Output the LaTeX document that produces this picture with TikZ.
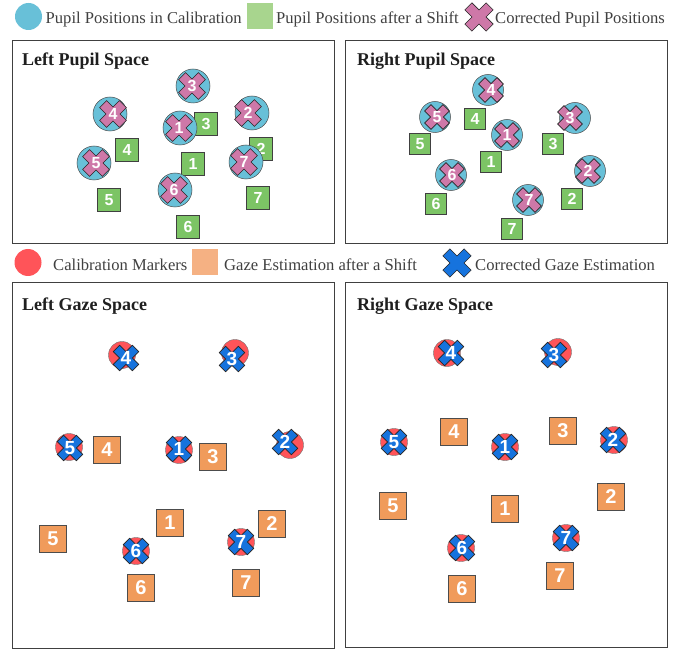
\documentclass[tikz,border=0pt]{standalone}
\usepackage{fontspec}
\setmainfont{Liberation Serif}
\newfontfamily\numfont{Liberation Sans}
\definecolor{pupilblue}{RGB}{104,192,216}
\definecolor{sqgreen}{RGB}{124,196,101}
\definecolor{leggreen}{RGB}{168,213,142}
\definecolor{xpink}{RGB}{206,120,168}
\definecolor{markred}{RGB}{255,84,89}
\definecolor{sqorange}{RGB}{240,155,91}
\definecolor{legorange}{RGB}{245,177,131}
\definecolor{xblue}{RGB}{22,115,221}
\definecolor{txtgray}{RGB}{64,64,64}
\newcommand{\xcross}[5]{% center, fill, halfwidth, halflength, name
  \filldraw[fill=#2, draw=black!85, line width=0.6pt, shift={#1}, rotate=45]
    (#3,#4) -- (#3,#3) -- (#4,#3) -- (#4,-#3) -- (#3,-#3) -- (#3,-#4) --
    (-#3,-#4) -- (-#3,-#3) -- (-#4,-#3) -- (-#4,#3) -- (-#3,#3) -- (-#3,#4) -- cycle;
  \coordinate (#5) at #1;}
% pupil point: name, x, y, dx, dy, number, circle size, cross halfwidth, cross halflength
\newcommand{\pupilpt}[9]{%
  \node[pcirc, minimum size=#7pt] (#1) at (#2,#3) {};
  \xcross{($(#1)+(#4,#5)$)}{xpink}{#8}{#9}{#1-x}
  \node[pnum] (#1-n) at (#1-x) {#6};}
% gaze point: name, x, y, dx, dy, number
\newcommand{\gazept}[6]{%
  \node[gcirc] (#1) at (#2,#3) {};
  \xcross{($(#1)+(#4,#5)$)}{xblue}{4.5}{13.5}{#1-x}
  \node[gnum] (#1-n) at (#1-x) {#6};}
\usetikzlibrary{calc}
\tikzset{
  panel/.style={draw=black!75, line width=0.8pt},
  ptitle/.style={anchor=base west, inner sep=0, text=black!88,
    font=\bfseries\fontsize{18}{18}\selectfont},
  legtext/.style={anchor=base west, inner sep=0, text=txtgray,
    font=\fontsize{16.6}{16.6}\selectfont},
  pcirc/.style={circle, fill=pupilblue, draw=black!70, line width=0.5pt, inner sep=0},
  gcirc/.style={circle, fill=markred, draw=black!55, line width=0.4pt,
    minimum size=27pt, inner sep=0},
  psq/.style={rectangle, fill=sqgreen, draw=black!75, line width=0.6pt,
    minimum size=23pt, inner sep=0, text=white,
    font=\numfont\bfseries\fontsize{16}{16}\selectfont},
  gsq/.style={rectangle, fill=sqorange, draw=black!70, line width=0.6pt,
    minimum size=27pt, inner sep=0, text=white,
    font=\numfont\bfseries\fontsize{20}{20}\selectfont},
  pnum/.style={inner sep=0, text=white,
    font=\numfont\bfseries\fontsize{16}{16}\selectfont},
  gnum/.style={inner sep=0, text=white,
    font=\numfont\bfseries\fontsize{19}{19}\selectfont},
}
\begin{document}
\begin{tikzpicture}[x=1pt, y=-1pt]
\useasboundingbox[fill=white] (0,0) rectangle (697,650);

% ---------- legend 1 ----------
\node[circle, fill=pupilblue, minimum size=27pt, inner sep=0] (lg-c) at (28.5,16.5) {};
\node[legtext] (lg-ct) at (45.5,24) {Pupil Positions in Calibration};
\node[rectangle, fill=leggreen, minimum size=26pt, inner sep=0] (lg-s) at (259.5,16) {};
\node[legtext] (lg-st) at (276,24) {Pupil Positions after a Shift};
\xcross{(479,17)}{xpink}{5}{15}{lg-x}
\node[legtext] (lg-xt) at (495,24) {Corrected Pupil Positions};

% ---------- legend 2 ----------
\node[circle, fill=markred, minimum size=27pt, inner sep=0] (lg2-c) at (28,262.5) {};
\node[legtext] (lg2-ct) at (53,270) {Calibration Markers};
\node[rectangle, fill=legorange, minimum size=26pt, inner sep=0] (lg2-s) at (205,262) {};
\node[legtext] (lg2-st) at (224,270) {Gaze Estimation after a Shift};
\xcross{(457,263)}{xblue}{5}{15}{lg2-x}
\node[legtext] (lg2-xt) at (475,270) {Corrected Gaze Estimation};

% ---------- panels ----------
\draw[panel] (12,40) rectangle (334,243);
\draw[panel] (345,40) rectangle (667,243);
\draw[panel] (12,282) rectangle (334,648);
\draw[panel] (345,282) rectangle (667,647);
\node[ptitle] (t-lp) at (22,66) {Left Pupil Space};
\node[ptitle] (t-rp) at (357,66) {Right Pupil Space};
\node[ptitle] (t-lg) at (22,310) {Left Gaze Space};
\node[ptitle] (t-rg) at (357,310) {Right Gaze Space};

% ---------- left pupil space ----------
\node[psq] (lp-s3) at (206,124) {3};
\node[psq] (lp-s4) at (127,150) {4};
\node[psq] (lp-s2) at (261,149) {2};
\node[psq] (lp-s1) at (193,164) {1};
\node[psq] (lp-s5) at (109,200) {5};
\node[psq] (lp-s7) at (258,198) {7};
\node[psq] (lp-s6) at (188,227) {6};
\pupilpt{lp-c3}{193}{86}{-1}{0}{3}{34}{5}{14}
\pupilpt{lp-c4}{110}{114}{3}{0}{4}{34}{5}{14}
\pupilpt{lp-c1}{180}{128}{-1}{0}{1}{34}{5}{14}
\pupilpt{lp-c2}{252}{113}{-4}{0}{2}{34}{5}{14}
\pupilpt{lp-c5}{94}{163}{2}{0}{5}{34}{5}{14}
\pupilpt{lp-c7}{246}{162}{-2}{0}{7}{34}{5}{14}
\pupilpt{lp-c6}{175}{190}{-1}{0}{6}{34}{5}{14}

% ---------- right pupil space ----------
\node[psq, minimum size=21pt] (rp-s4) at (475,119) {4};
\node[psq, minimum size=21pt] (rp-s5) at (420,144) {5};
\node[psq, minimum size=21pt] (rp-s3) at (553,144) {3};
\node[psq, minimum size=21pt] (rp-s1) at (491,162) {1};
\node[psq, minimum size=21pt] (rp-s6) at (436,204) {6};
\node[psq, minimum size=21pt] (rp-s2) at (572,199) {2};
\node[psq, minimum size=21pt] (rp-s7) at (512,229) {7};
\pupilpt{rp-c4}{488}{90}{3}{0}{4}{31}{4.5}{13}
\pupilpt{rp-c5}{435}{117}{2}{0}{5}{31}{4.5}{13}
\pupilpt{rp-c3}{575}{118}{-5}{0}{3}{31}{4.5}{13}
\pupilpt{rp-c1}{507}{135}{0}{0}{1}{31}{4.5}{13}
\pupilpt{rp-c6}{451}{175}{1}{0}{6}{31}{4.5}{13}
\pupilpt{rp-c2}{590}{171}{-2}{0}{2}{31}{4.5}{13}
\pupilpt{rp-c7}{528}{200}{1}{0}{7}{31}{4.5}{13}

% ---------- left gaze space ----------
\node[gsq] (lg-s4) at (107,450) {4};
\node[gsq] (lg-s3) at (213,457) {3};
\node[gsq] (lg-s1) at (170,523) {1};
\node[gsq] (lg-s5) at (53,539) {5};
\node[gsq] (lg-s2) at (272,524) {2};
\node[gsq] (lg-s6) at (141,588) {6};
\node[gsq] (lg-s7) at (246,583) {7};
\gazept{lg-c4}{122}{355}{4}{3}{4}
\gazept{lg-c3}{235}{353}{-3}{6}{3}
\gazept{lg-c5}{69}{447}{1}{1}{5}
\gazept{lg-c1}{179}{450}{0}{-1}{1}
\gazept{lg-c2}{290}{445}{-5}{-3}{2}
\gazept{lg-c6}{136}{551}{0}{0}{6}
\gazept{lg-c7}{241}{542}{0}{0}{7}

% ---------- right gaze space ----------
\node[gsq] (rg-s4) at (454,432) {4};
\node[gsq] (rg-s3) at (563,431) {3};
\node[gsq] (rg-s5) at (393,506) {5};
\node[gsq] (rg-s1) at (505,509) {1};
\node[gsq] (rg-s2) at (611,497) {2};
\node[gsq] (rg-s6) at (462,589) {6};
\node[gsq] (rg-s7) at (560,576) {7};
\gazept{rg-c4}{447}{353}{4}{0}{4}
\gazept{rg-c3}{558}{352}{-4}{3}{3}
\gazept{rg-c5}{394}{442}{0}{0}{5}
\gazept{rg-c1}{505}{447}{0}{0}{1}
\gazept{rg-c2}{614}{440}{-1}{0}{2}
\gazept{rg-c7}{566}{538}{0}{0}{7}
\gazept{rg-c6}{461}{548}{1}{0}{6}
\end{tikzpicture}
\end{document}
